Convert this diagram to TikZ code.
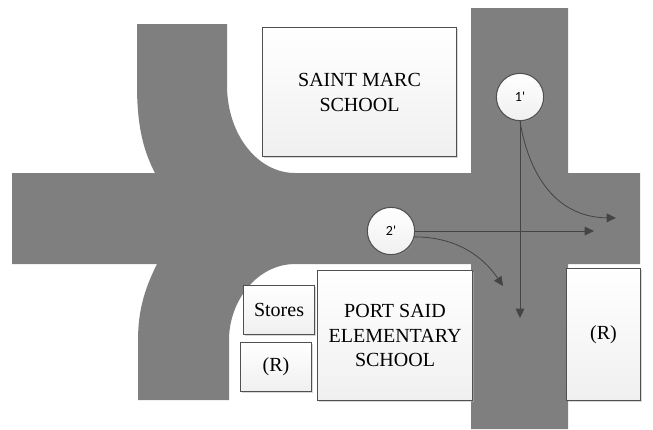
\documentclass[tikz,border=0pt]{standalone}
\usepackage{fontspec}
\setmainfont{Liberation Serif}
\newfontfamily\lblfont{Carlito}
\usetikzlibrary{arrows.meta,shadows}
\definecolor{road}{RGB}{127,127,127}
\definecolor{edge}{RGB}{80,80,80}
\definecolor{arrowc}{RGB}{68,68,68}
\tikzset{
  x=0.75pt,y=-0.75pt,
  bldg/.style={draw=edge,line width=0.8pt,top color=white,bottom color=black!6,
    align=center,font=\fontsize{15}{18.7}\selectfont,inner sep=0pt,anchor=north west,
    drop shadow={shadow xshift=0.8pt,shadow yshift=-0.8pt,fill=black!30}},
  signal/.style={circle,draw=edge,line width=0.8pt,top color=white,bottom color=black!6,
    minimum size=35.5pt,inner sep=0pt,font=\lblfont\fontsize{10.5}{12}\selectfont,
    drop shadow={shadow xshift=1pt,shadow yshift=-1pt,fill=black!45}},
  flow/.style={draw=arrowc,line width=0.6pt,-{Triangle[length=7pt,width=6.5pt]}},
}
\newcommand{\bldgnode}[6]{\node[bldg,minimum width=#3*0.75pt,minimum height=#4*0.75pt] (#5) at (#1,#2) {#6};}
\begin{document}
\begin{tikzpicture}
\useasboundingbox (0,0) rectangle (653,429);
\fill[road] (12,173) -- (155,173) .. controls (143,150) and (137,125) .. (137,85) -- (137,24) -- (227,24) -- (227,85)
  .. controls (227,135) and (258,173) .. (295,173) -- (471,173) -- (471,8) -- (568,8) -- (568,173) -- (640,173) -- (640,264)
  -- (568,264) -- (568,429) -- (471,429) -- (471,264) -- (295,264)
  .. controls (258,264) and (229,300) .. (229,340) -- (229,400) -- (138,400) -- (138,340)
  .. controls (138,310) and (145,288) .. (157,264) -- (12,264) -- cycle;
\bldgnode{262}{27}{194}{129}{marc}{SAINT MARC\\SCHOOL}
\bldgnode{317}{270}{155}{130}{said}{PORT SAID\\ELEMENTARY\\SCHOOL}
\bldgnode{243}{285}{71}{49}{stores}{Stores}
\bldgnode{240}{342}{71}{49}{rsmall}{(R)}
\bldgnode{566}{268}{74}{132}{rbig}{(R)}
\node[signal] (one) at (520,97) {1'};
\node[signal] (two) at (391,231) {2'};
\coordinate (t1) at (616,218);
\coordinate (t2) at (594,231);
\coordinate (t3) at (520,318);
\coordinate (t4) at (503,286);
\draw[flow] (one.south) -- (t3);
\draw[flow] (one.south) .. controls (527,165) and (550,217) .. (t1);
\draw[flow] (two.east) -- (t2);
\draw[flow] (two.-14) .. controls (455,237) and (482,255) .. (t4);
\end{tikzpicture}
\end{document}
